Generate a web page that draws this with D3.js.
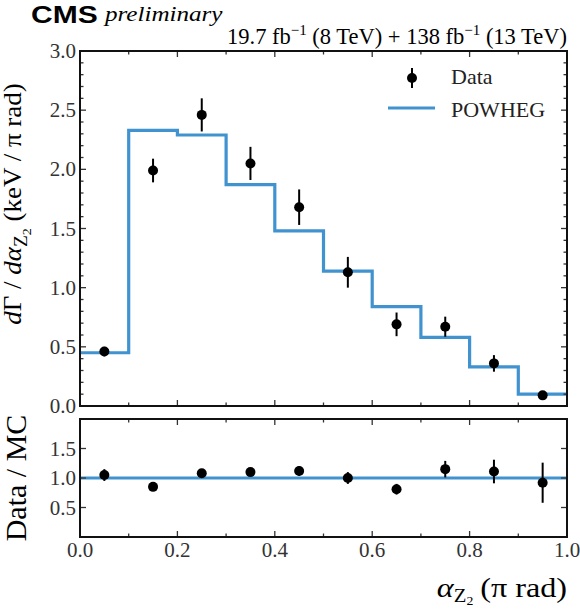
<!DOCTYPE html>
<html>
<head>
<meta charset="utf-8">
<script src="https://cdn.jsdelivr.net/npm/d3@7"></script>
<style>
  body { margin: 0; background: #fff; }
  text { font-family: "Liberation Serif", "DejaVu Serif", serif; }
</style>
</head>
<body>
<div id="chart"></div>
<script>
/* Data */
const binEdges = [0.0, 0.1, 0.2, 0.3, 0.4, 0.5, 0.6, 0.7, 0.8, 0.9, 1.0];
const binCenters = [0.05, 0.15, 0.25, 0.35, 0.45, 0.55, 0.65, 0.75, 0.85, 0.95];
const dataValues = [0.46, 1.99, 2.46, 2.05, 1.68, 1.13, 0.69, 0.67, 0.36, 0.09];
const dataErrors = [0.04, 0.10, 0.14, 0.14, 0.15, 0.13, 0.10, 0.085, 0.07, 0.03];
const mcValues = [0.45, 2.33, 2.29, 1.87, 1.48, 1.14, 0.84, 0.58, 0.33, 0.10];
const ratioValues = [1.05, 0.85, 1.08, 1.10, 1.12, 1.00, 0.81, 1.15, 1.11, 0.92];
const ratioErrors = [0.10, 0.05, 0.06, 0.07, 0.08, 0.10, 0.09, 0.14, 0.20, 0.34];
const mainTicks = [0.0, 0.5, 1.0, 1.5, 2.0, 2.5, 3.0];
const ratioTicks = [0.5, 1.0, 1.5];
const xTicks = [0.0, 0.2, 0.4, 0.6, 0.8, 1.0];

/* Layout */
const WIDTH = 580;
const HEIGHT = 610;
const LEFT = 80;
const RIGHT = 567;
const MAIN_TOP = 51;
const MAIN_BOTTOM = 406;
const RATIO_TOP = 419;
const RATIO_BOTTOM = 537;
const BLUE = "#4193cf";
const TICK_COLOR = "#333";
const TICK_FONT = 21;

const svg = d3.select("#chart").append("svg")
  .attr("width", WIDTH)
  .attr("height", HEIGHT);

const xScale = d3.scaleLinear().domain([0, 1]).range([LEFT, RIGHT]);
const yMain = d3.scaleLinear().domain([0, 3]).range([MAIN_BOTTOM, MAIN_TOP]);
const yRatio = d3.scaleLinear().domain([0, 2]).range([RATIO_BOTTOM, RATIO_TOP]);

/* text placed with a horizontal stretch (the original font is wider) */
const stretchedText = (x, y, size, sx, rotate) =>
  svg.append("text")
    .attr("transform", "translate(" + x + "," + y + ")" + (rotate ? " rotate(" + rotate + ")" : "") + " scale(" + sx + ",1)")
    .attr("font-size", size);

/* Draw inward ticks on all four sides of a panel */
const drawFrameTicks = (yScale, top, bottom, yMajor, yMinor, showXLabels) => {
  const g = svg.append("g");
  const xMinor = d3.range(0, 1.0001, 0.1);
  xMinor.forEach((v) => {
    const major = xTicks.some((t) => Math.abs(t - v) < 1e-6);
    const len = major ? 6 : 3.5;
    g.append("line").attr("x1", xScale(v)).attr("x2", xScale(v))
      .attr("y1", bottom).attr("y2", bottom - len)
      .attr("stroke", TICK_COLOR).attr("stroke-width", 1.3);
    g.append("line").attr("x1", xScale(v)).attr("x2", xScale(v))
      .attr("y1", top).attr("y2", top + len)
      .attr("stroke", TICK_COLOR).attr("stroke-width", 1.3);
  });
  yMinor.forEach((v) => {
    const major = yMajor.some((t) => Math.abs(t - v) < 1e-6);
    const len = major ? 6 : 3.5;
    g.append("line").attr("x1", LEFT).attr("x2", LEFT + len)
      .attr("y1", yScale(v)).attr("y2", yScale(v))
      .attr("stroke", TICK_COLOR).attr("stroke-width", 1.3);
    g.append("line").attr("x1", RIGHT).attr("x2", RIGHT - len)
      .attr("y1", yScale(v)).attr("y2", yScale(v))
      .attr("stroke", TICK_COLOR).attr("stroke-width", 1.3);
  });
  yMajor.forEach((v) => {
    g.append("text").attr("x", LEFT - 4).attr("y", yScale(v) + 7)
      .attr("text-anchor", "end").attr("font-size", TICK_FONT).attr("fill", "#333")
      .text(d3.format(".1f")(v));
  });
  if (showXLabels) {
    xTicks.forEach((v) => {
      g.append("text").attr("x", xScale(v)).attr("y", bottom + 20)
        .attr("text-anchor", "middle").attr("font-size", TICK_FONT).attr("fill", "#333")
        .text(d3.format(".1f")(v));
    });
  }
  svg.append("rect").attr("x", LEFT).attr("y", top)
    .attr("width", RIGHT - LEFT).attr("height", bottom - top)
    .attr("fill", "none").attr("stroke", "#111").attr("stroke-width", 2);
};

/* Main panel: POWHEG step histogram */
const stepPoints = [];
mcValues.forEach((v, i) => {
  stepPoints.push([binEdges[i], v]);
  stepPoints.push([binEdges[i + 1], v]);
});
const stepLine = d3.line().x((d) => xScale(d[0])).y((d) => yMain(d[1]));
svg.append("path").datum(stepPoints)
  .attr("d", stepLine)
  .attr("fill", "none").attr("stroke", BLUE).attr("stroke-width", 3.2);

/* Main panel: data points */
const mainData = binCenters.map((c, i) => ({ x: c, y: dataValues[i], e: dataErrors[i] }));
svg.append("g").selectAll("line").data(mainData).enter().append("line")
  .attr("x1", (d) => xScale(d.x)).attr("x2", (d) => xScale(d.x))
  .attr("y1", (d) => yMain(d.y - d.e)).attr("y2", (d) => yMain(d.y + d.e))
  .attr("stroke", "#000").attr("stroke-width", 2);
svg.append("g").selectAll("circle").data(mainData).enter().append("circle")
  .attr("cx", (d) => xScale(d.x)).attr("cy", (d) => yMain(d.y))
  .attr("r", 5).attr("fill", "#000");

drawFrameTicks(yMain, MAIN_TOP, MAIN_BOTTOM, mainTicks, d3.range(0, 3.0001, 0.1), false);

/* Ratio panel */
svg.append("line").attr("x1", LEFT).attr("x2", RIGHT)
  .attr("y1", yRatio(1)).attr("y2", yRatio(1))
  .attr("stroke", BLUE).attr("stroke-width", 3.2);
const ratioData = binCenters.map((c, i) => ({ x: c, y: ratioValues[i], e: ratioErrors[i] }));
svg.append("g").selectAll("line").data(ratioData).enter().append("line")
  .attr("x1", (d) => xScale(d.x)).attr("x2", (d) => xScale(d.x))
  .attr("y1", (d) => yRatio(d.y - d.e)).attr("y2", (d) => yRatio(d.y + d.e))
  .attr("stroke", "#000").attr("stroke-width", 2);
svg.append("g").selectAll("circle").data(ratioData).enter().append("circle")
  .attr("cx", (d) => xScale(d.x)).attr("cy", (d) => yRatio(d.y))
  .attr("r", 5).attr("fill", "#000");

drawFrameTicks(yRatio, RATIO_TOP, RATIO_BOTTOM, ratioTicks, ratioTicks, true);

/* Legend */
svg.append("line").attr("x1", 412).attr("x2", 412).attr("y1", 68).attr("y2", 88)
  .attr("stroke", "#000").attr("stroke-width", 2);
svg.append("circle").attr("cx", 412).attr("cy", 78).attr("r", 5).attr("fill", "#000");
svg.append("text").attr("x", 451).attr("y", 84).attr("font-size", 22).attr("fill", "#222").text("Data");
svg.append("line").attr("x1", 388).attr("x2", 435).attr("y1", 108).attr("y2", 108)
  .attr("stroke", BLUE).attr("stroke-width", 3.2);
svg.append("text").attr("x", 451).attr("y", 117).attr("font-size", 22).attr("fill", "#222").text("POWHEG");

/* Header */
stretchedText(31, 23, 24, 1.25)
  .style("font-family", "'Liberation Sans', Arial, sans-serif")
  .attr("font-weight", "bold").text("CMS");
stretchedText(105, 21, 22, 1.14).attr("font-style", "italic").text("preliminary");
const lumi = svg.append("text").attr("x", RIGHT).attr("y", 44)
  .attr("text-anchor", "end").attr("font-size", 22.5);
lumi.append("tspan").text("19.7 fb");
lumi.append("tspan").attr("dy", -9).attr("font-size", 15).text("\u22121");
lumi.append("tspan").attr("dy", 9).text(" (8 TeV) + 138 fb");
lumi.append("tspan").attr("dy", -9).attr("font-size", 15).text("\u22121");
lumi.append("tspan").attr("dy", 9).text(" (13 TeV)");

/* Axis titles */
const yTitle = stretchedText(21, 204, 25, 1.08, -90).attr("text-anchor", "middle");
yTitle.append("tspan").attr("font-style", "italic").text("d");
yTitle.append("tspan").text("\u0393 / ");
yTitle.append("tspan").attr("font-style", "italic").text("d\u03b1");
yTitle.append("tspan").attr("dy", 6).attr("font-size", 18).text("Z");
yTitle.append("tspan").attr("dy", 4).attr("font-size", 13).text("2");
yTitle.append("tspan").attr("dy", -10).text(" (keV / \u03c0 rad)");

stretchedText(26, (RATIO_TOP + RATIO_BOTTOM) / 2, 30, 1.0, -90)
  .attr("text-anchor", "middle").text("Data / MC");

const xTitle = stretchedText(RIGHT, 597, 28, 1.15).attr("text-anchor", "end");
xTitle.append("tspan").attr("font-style", "italic").text("\u03b1");
xTitle.append("tspan").attr("dy", 5).attr("font-size", 18).text("Z");
xTitle.append("tspan").attr("dy", 3).attr("font-size", 12).text("2");
xTitle.append("tspan").attr("dy", -8).attr("dx", 6).text("(\u03c0 rad)");
</script>
</body>
</html>
